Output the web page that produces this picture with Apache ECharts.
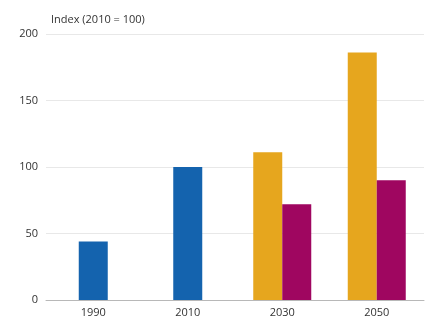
<!DOCTYPE html>
<html>
<head>
<meta charset="utf-8">
<script src="https://cdn.jsdelivr.net/npm/echarts@6/dist/echarts.min.js"></script>
<style>
  html, body { margin: 0; padding: 0; background: #fff; }
  #chart { width: 428px; height: 320px; }
</style>
</head>
<body>
<div id="chart"></div>
<script>
// Index values, 2010 = 100
const years = ['1990', '2010', '2030', '2050'];
const historic = [44, 100, null, null];
const scenarioHigh = [null, null, 111, 186];
const scenarioLow = [null, null, 72, 90];
const yTicks = [0, 50, 100, 150, 200];

const font = 'Open Sans';
const textColor = '#333';
const chart = echarts.init(document.getElementById('chart'), null, { renderer: 'canvas' });

const catAxis = (show) => ({
  type: 'category',
  data: years,
  show: show,
  axisTick: { show: false },
  axisLine: { show: show, lineStyle: { color: '#b8b8b8', width: 1 } },
  axisLabel: { show: show, color: textColor, fontFamily: font, fontSize: 11, margin: 7 }
});

chart.setOption({
  animation: false,
  grid: { left: 46, right: 4, top: 34, bottom: 20 },
  title: {
    text: 'Index (2010 = 100)',
    left: 46, top: 9,
    textStyle: { fontFamily: font, fontSize: 11, fontWeight: 'normal', color: textColor }
  },
  xAxis: [catAxis(true), catAxis(false)],
  yAxis: {
    type: 'value',
    min: yTicks[0],
    max: yTicks[yTicks.length - 1],
    interval: 50,
    axisLine: { show: false },
    axisTick: { show: false },
    axisLabel: { color: textColor, fontFamily: font, fontSize: 11, margin: 8 },
    splitLine: { lineStyle: { color: '#e8e8e8', width: 1 } }
  },
  series: [
    {
      type: 'bar', xAxisIndex: 0, data: historic, barWidth: 29,
      itemStyle: { color: '#1463ae' }
    },
    {
      type: 'bar', xAxisIndex: 1, data: scenarioHigh, barWidth: 29, barGap: '0%',
      itemStyle: { color: '#e6a61e' }
    },
    {
      type: 'bar', xAxisIndex: 1, data: scenarioLow, barWidth: 29, barGap: '0%',
      itemStyle: { color: '#9f0660' }
    }
  ]
});
</script>
</body>
</html>
